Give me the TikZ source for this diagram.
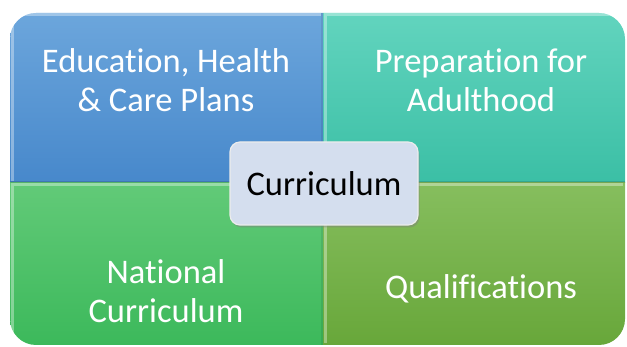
\documentclass[tikz,border=0pt]{standalone}
\usepackage{fontspec}
\setmainfont{Carlito}[Ligatures={NoCommon}]
\usetikzlibrary{shadows}
\definecolor{blueT}{HTML}{6CA6DC}
\definecolor{blueB}{HTML}{4788CB}
\definecolor{tealT}{HTML}{62D4BE}
\definecolor{tealB}{HTML}{3BBFA5}
\definecolor{greenT}{HTML}{62CA78}
\definecolor{greenB}{HTML}{3CB95B}
\definecolor{oliveT}{HTML}{86BE5E}
\definecolor{oliveB}{HTML}{68A73A}
\definecolor{centerfill}{HTML}{D4DEEE}
\tikzset{
  quadtext/.style={text=white, align=center, font=\fontsize{34.5}{39}\selectfont},
  hilite/.style={draw=white, draw opacity=0.35, line width=3pt},
  centerbox/.style={draw=white!85!gray, line width=1.2pt, fill=centerfill, rounded corners=10pt,
    minimum width=188pt, minimum height=83pt, text=black,
    font=\fontsize{34.5}{40}\selectfont,
    drop shadow={shadow xshift=1.5pt, shadow yshift=-2.5pt, opacity=0.45}}
}
\begin{document}
\begin{tikzpicture}[x=1pt,y=-1pt]
\useasboundingbox (0,0) rectangle (627,347);
\begin{scope}
  \clip[rounded corners=26pt] (10,13) rectangle (625,345);
  \shade[top color=blueT, bottom color=blueB] (10,13) rectangle (323,183);
  \shade[top color=tealT, bottom color=tealB] (323,13) rectangle (625,183);
  \shade[top color=greenT, bottom color=greenB] (10,183) rectangle (323,345);
  \shade[top color=oliveT, bottom color=oliveB] (323,183) rectangle (625,345);
  % bevel highlights
  \draw[hilite] (12,181) -- (12,15) -- (321,15);
  \draw[hilite] (325,181) -- (325,15) -- (623,15);
  \draw[hilite] (12,343) -- (12,185) -- (321,185);
  \draw[hilite] (325,343) -- (325,185) -- (623,185);
  \draw[draw=black, draw opacity=0.12, line width=2pt] (10,182) -- (625,182);
  \draw[draw=black, draw opacity=0.08, line width=2pt] (322,13) -- (322,345);
\end{scope}
\node[quadtext] (ehc) at (166,80) {Education, Health\\\& Care Plans};
\node[quadtext] (pfa) at (481,80) {Preparation for\\Adulthood};
\node[quadtext] (nc) at (166,291) {National\\Curriculum};
\node[quadtext] (qual) at (481,289) {Qualifications};
\node[centerbox] (curr) at (324,183.5) {Curriculum};
\end{tikzpicture}
\end{document}
